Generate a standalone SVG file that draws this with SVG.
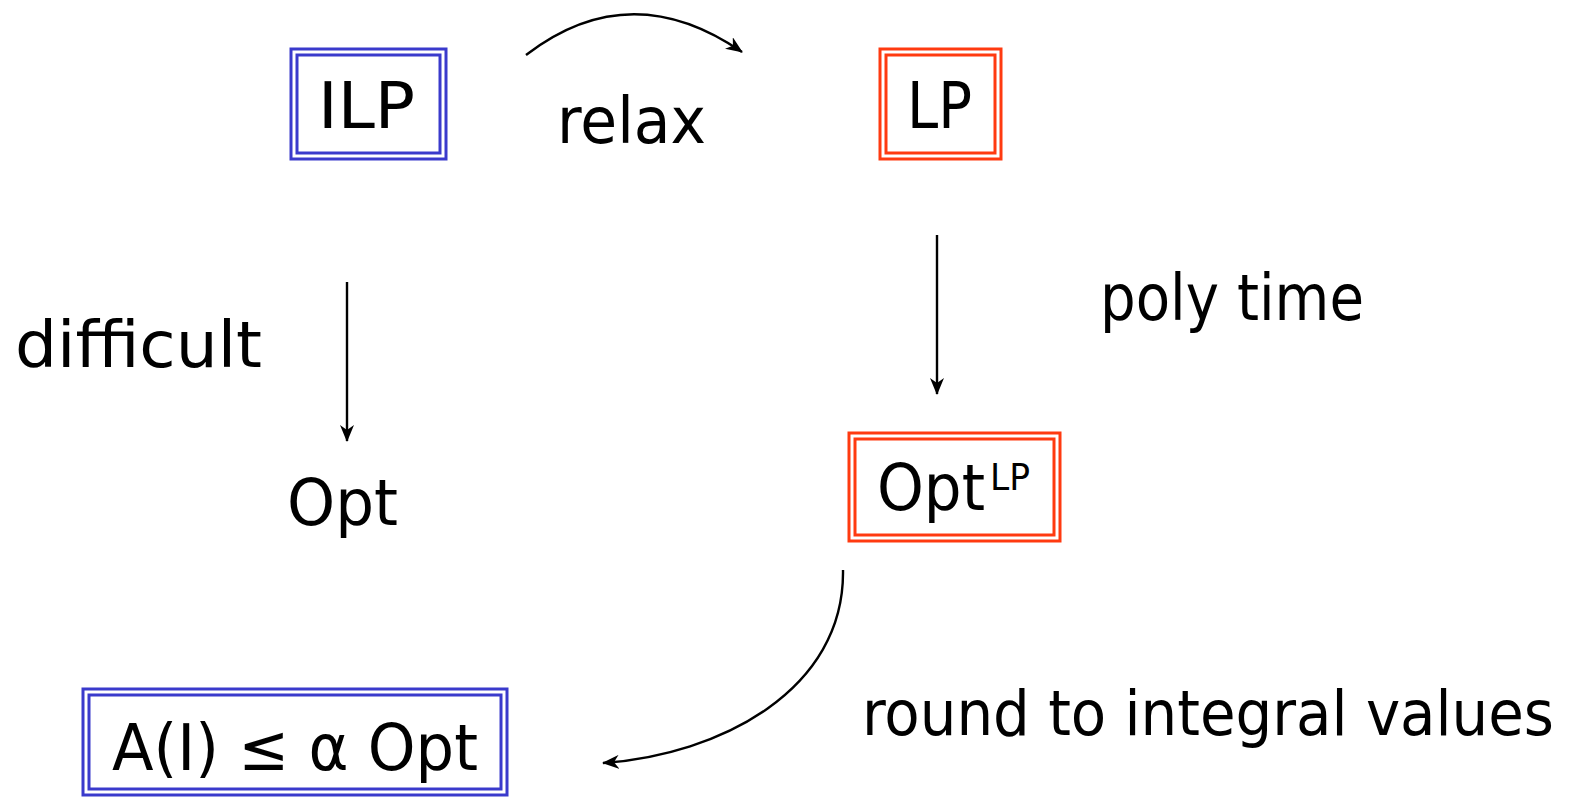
<svg xmlns="http://www.w3.org/2000/svg" width="1574" height="797" viewBox="0 0 1574 797">
  <style>
    .lbl { font-family: "DejaVu Sans", "Open Sans", sans-serif; font-size: 64px; fill: #000; }
    .narrow { font-family: "DejaVu Sans Condensed", "DejaVu Sans", sans-serif; font-size: 62px; fill: #000; }
    .sup { font-family: "DejaVu Sans", "Open Sans", sans-serif; font-size: 38px; fill: #000; }
    .blue { fill: none; stroke: #3a3acc; stroke-width: 3; }
    .red { fill: none; stroke: #ff3a10; stroke-width: 3; }
    .edge { fill: none; stroke: #000; stroke-width: 2.4; }
  </style>
  <defs>
    <marker id="arrow" markerWidth="20" markerHeight="14" refX="16" refY="7" orient="auto" markerUnits="userSpaceOnUse">
      <path d="M0,0 L17,7 L0,14 L5,7 Z" fill="#000"/>
    </marker>
  </defs>
  <rect width="1574" height="797" fill="#fff"/>

  <!-- connectors -->
  <g id="edges">
    <path class="edge" d="M526,55 Q630,-25 742,52" marker-end="url(#arrow)"/>
    <path class="edge" d="M347,282 L347,441" marker-end="url(#arrow)"/>
    <path class="edge" d="M937,235 L937,394" marker-end="url(#arrow)"/>
    <path class="edge" d="M843,570 C845,690 720,755 603,763" marker-end="url(#arrow)"/>
  </g>

  <!-- edge labels -->
  <g id="labels">
    <text class="lbl" x="557" y="143" textLength="149" lengthAdjust="spacingAndGlyphs">relax</text>
    <text class="lbl" x="15" y="367" textLength="247" lengthAdjust="spacingAndGlyphs">difficult</text>
    <text class="lbl" x="1100" y="320" textLength="264" lengthAdjust="spacingAndGlyphs">poly time</text>
    <text class="narrow" x="862" y="735" textLength="692" lengthAdjust="spacingAndGlyphs">round to integral values</text>
  </g>

  <g id="ilp">
    <rect class="blue" x="291" y="49" width="155" height="110"/>
    <rect class="blue" x="297" y="55" width="143" height="98"/>
    <text class="lbl" x="318" y="128" textLength="97" lengthAdjust="spacingAndGlyphs">ILP</text>
  </g>

  <g id="lp">
    <rect class="red" x="880" y="49" width="121" height="110"/>
    <rect class="red" x="886" y="55" width="109" height="98"/>
    <text class="lbl" x="907" y="128" textLength="65" lengthAdjust="spacingAndGlyphs">LP</text>
  </g>

  <g id="opt">
    <text class="lbl" x="287" y="525" textLength="111" lengthAdjust="spacingAndGlyphs">Opt</text>
  </g>

  <g id="optlp">
    <rect class="red" x="849" y="433" width="211" height="108"/>
    <rect class="red" x="855" y="439" width="199" height="96"/>
    <text class="lbl" x="877" y="510" textLength="108" lengthAdjust="spacingAndGlyphs">Opt</text>
    <text class="sup" x="990" y="490" textLength="40" lengthAdjust="spacingAndGlyphs">LP</text>
  </g>

  <g id="approx">
    <rect class="blue" x="83" y="689" width="424" height="106"/>
    <rect class="blue" x="89" y="695" width="412" height="94"/>
    <text class="lbl" x="112" y="770" textLength="366" lengthAdjust="spacingAndGlyphs">A(I) ≤ α Opt</text>
  </g>
</svg>
